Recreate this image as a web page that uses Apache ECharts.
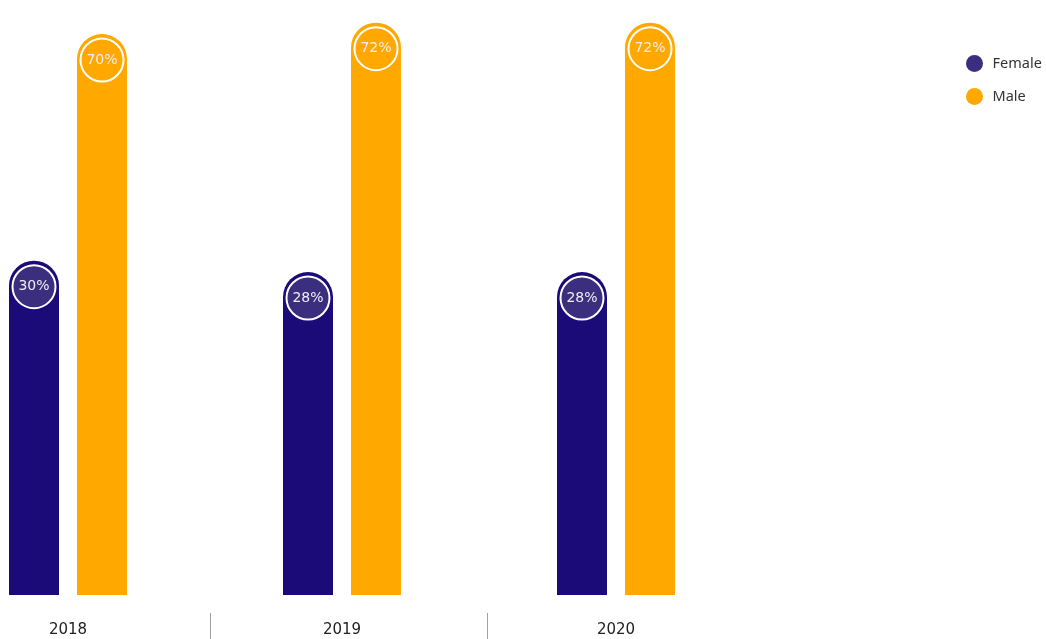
<!DOCTYPE html>
<html>
<head>
<meta charset="utf-8">
<script src="https://cdn.jsdelivr.net/npm/echarts@6/dist/echarts.min.js"></script>
<style>
  html, body { margin: 0; padding: 0; background: #ffffff; }
  #chart { width: 1046px; height: 639px; }
</style>
</head>
<body>
<div id="chart"></div>
<script>
// Share of employees by gender, per year (percent)
const years = ['2018', '2019', '2020'];
const female = [30, 28, 28];
const male = [70, 72, 72];

const FEMALE_BAR = '#1a0b78';
const FEMALE_DOT = '#3b2e7e';
const MALE_BAR = '#ffa800';

const BAR_W = 50;     // bar width in px
const BAR_SHIFT = 34; // distance of each bar centre from the category centre

function pillBar(shift, barColor, dotColor) {
  return function (params, api) {
    const cat = api.value(0);
    const val = api.value(1);
    const topPt = api.coord([cat, val]);
    const cs = params.coordSys;
    const bottom = cs.y + cs.height;
    const cx = topPt[0] + shift;
    const topY = topPt[1];
    const r = BAR_W / 2;
    return {
      type: 'group',
      children: [
        {
          type: 'rect',
          shape: { x: cx - r, y: topY, width: BAR_W, height: bottom - topY, r: [r, r, 0, 0] },
          style: { fill: barColor }
        },
        {
          type: 'circle',
          shape: { cx: cx, cy: topY + 26, r: 21.5 },
          style: { fill: dotColor, stroke: '#ffffff', lineWidth: 2 }
        },
        {
          type: 'text',
          x: cx, y: topY + 26,
          style: {
            text: val + '%',
            fill: '#eeeef4',
            font: '14px "DejaVu Sans", Verdana, sans-serif',
            align: 'center',
            verticalAlign: 'middle'
          }
        }
      ]
    };
  };
}

const chart = echarts.init(document.getElementById('chart'), null, { renderer: 'canvas' });

chart.setOption({
  animation: false,
  backgroundColor: '#ffffff',
  legend: {
    orient: 'vertical',
    left: 961,
    top: 50,
    icon: 'circle',
    itemWidth: 26,
    itemHeight: 17,
    itemGap: 16,
    textStyle: { fontFamily: '"Noto Sans", sans-serif', fontSize: 14.5, color: '#333333' },
    data: [
      { name: 'Female', itemStyle: { color: FEMALE_DOT } },
      { name: 'Male', itemStyle: { color: MALE_BAR } }
    ]
  },
  grid: [
    { left: -69, width: 822, top: 0, bottom: 44, outerBoundsMode: 'none' },
    { left: -67, width: 831, top: 613, bottom: 0, outerBoundsMode: 'none' }
  ],
  xAxis: [
    {
      type: 'category',
      gridIndex: 0,
      data: years,
      axisLine: { show: false },
      axisTick: { show: false },
      axisLabel: {
        margin: 28,
        fontFamily: '"DejaVu Sans", Verdana, sans-serif',
        fontSize: 15,
        color: '#222222'
      }
    },
    {
      // thin dividers between the year groups, under the bars
      type: 'value',
      gridIndex: 1,
      min: 0,
      max: 3,
      interval: 1,
      axisLine: { show: false },
      axisTick: { show: false },
      axisLabel: { show: false },
      splitLine: {
        show: true,
        showMinLine: false,
        showMaxLine: false,
        lineStyle: { color: '#a0a0a0', width: 1 }
      }
    }
  ],
  yAxis: [
    { type: 'value', gridIndex: 0, min: -29, max: 76, show: false },
    { type: 'value', gridIndex: 1, show: false }
  ],
  series: [
    {
      name: 'Female',
      type: 'custom',
      xAxisIndex: 0,
      yAxisIndex: 0,
      itemStyle: { color: FEMALE_DOT },
      encode: { x: 0, y: 1 },
      renderItem: pillBar(-BAR_SHIFT, FEMALE_BAR, FEMALE_DOT),
      data: female.map((v, i) => [i, v])
    },
    {
      name: 'Male',
      type: 'custom',
      xAxisIndex: 0,
      yAxisIndex: 0,
      itemStyle: { color: MALE_BAR },
      encode: { x: 0, y: 1 },
      renderItem: pillBar(BAR_SHIFT, MALE_BAR, MALE_BAR),
      data: male.map((v, i) => [i, v])
    }
  ]
});
</script>
</body>
</html>
